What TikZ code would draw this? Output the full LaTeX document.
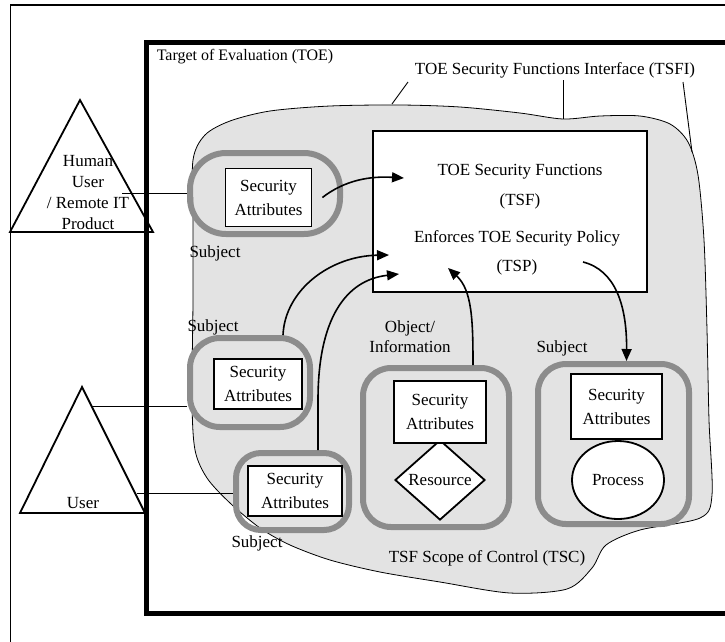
\documentclass[tikz,border=0pt]{standalone}
\usepackage{fontspec}
\setmainfont{Liberation Serif}
\usepackage{tikz}
\usetikzlibrary{arrows.meta}
\usetikzlibrary{positioning}
\usetikzlibrary{shapes.geometric}
\definecolor{tscgray}{HTML}{E3E3E3}
\definecolor{ringgray}{HTML}{8C8C8C}

\begin{document}
\begin{tikzpicture}[x=1pt,y=-1pt]
% 1 = 1px of the page
    \def\RINGLW{6pt} %gray subject rings
    \def\BOXLW{1.8pt} %black boxes
    \def\TXT{\fontsize{17pt}{24pt}\selectfont}
    \def\TXTTWO{\fontsize{17pt}{30pt}\selectfont}

    \tikzset{
      secbox/.style={draw, fill=white, line width=\BOXLW, align=center,
        inner sep=0pt, font=\TXT},
      ring/.style={draw=ringgray, line width=\RINGLW, inner sep=0pt},
      flow/.style={-{Triangle[length=12pt,width=10pt]}, line width=1.6pt},
      conn/.style={line width=0.9pt},
      lbl/.style={font=\TXT, inner sep=0pt},
    }

    \useasboundingbox (0,0) rectangle (725,641);
    \clip (0,0) rectangle (725,641);

    % OUTER FRAME
    \draw[line width=1.8pt] (740,5) -- (10,5);
    \draw[line width=0.8pt] (10,5) -- (10,660);

    % TSC REGION (BLOB)
    \draw[fill=tscgray, line width=0.8pt] plot[smooth cycle] coordinates {
        (193,160) (205,135) (230,121) (270,111) (330,106) (400,105)
        (460,107) (520,113) (563,119) (600,116) (640,116) (670,124)
        (688,142) (698,175) (704,240) (707,330) (709,420) (712,495)
        (700,518) (640,530) (606,545) (592,568) (567,589) (510,593)
        (440,582) (380,572) (330,560) (290,545) (260,528) (230,503)
        (207,478) (195,450) (192,400) (193,300) (193,220)};

    % LABELS OF THE TOE
    \node[lbl, font=\fontsize{16pt}{20pt}\selectfont] (toelbl) at (245,57)
        {Target of Evaluation (TOE)};
    \node[lbl] (tsfilbl) at (555,70) {TOE Security Functions Interface (TSFI)};
    \node[lbl] (tsclbl) at (487,558) {TSF Scope of Control (TSC)};

    % leaders of the TSFI
    \coordinate (lda) at (408,82);
    \coordinate (ldb) at (563,80);
    \coordinate (ldc) at (683,82);
    \draw[conn] (lda) -- (392,104);
    \draw[conn] (ldb) -- (563,119);
    \draw[conn] (ldc) -- (692,152);

    % TSF BOX
    \node[draw, fill=white, line width=\BOXLW, minimum width=274pt,
        minimum height=161pt] (tsf) at (510,211.5) {};
    \node[lbl, font=\TXTTWO, align=center] (tsftxt) at (520,187)
        {TOE Security Functions\\(TSF)};
    \node[lbl, font=\fontsize{17pt}{29pt}\selectfont, align=center]
        (tsptxt) at (517,252.5) {Enforces TOE Security Policy\\(TSP)};

    % FIRST SUBJECT (HUMAN USER)
    \node[ring, rounded corners=36pt, minimum width=150pt,
        minimum height=81pt] (s1ring) at (265,193.5) {};
    \node[secbox, minimum width=86pt, minimum height=58pt] (s1box)
        at (268.5,197.5) {Security\\Attributes};
    \node[lbl] (s1lbl) at (215,253) {Subject};

    % SECOND SUBJECT
    \node[ring, rounded corners=30pt, minimum width=120pt,
        minimum height=89pt] (s2ring) at (250,382.5) {};
    \node[secbox, minimum width=88pt, minimum height=50pt] (s2box)
        at (258,384) {Security\\Attributes};
    \node[lbl] (s2lbl) at (213,327) {Subject};

    % THIRD SUBJECT
    \node[ring, rounded corners=25pt, minimum width=113pt,
        minimum height=77pt] (s3ring) at (292.5,491.5) {};
    \node[secbox, minimum width=94pt, minimum height=50pt] (s3box)
        at (295,491) {Security\\Attributes};
    \node[lbl] (s3lbl) at (257,543) {Subject};

    % OBJECT
    \node[ring, rounded corners=28pt, minimum width=146pt,
        minimum height=159pt] (objring) at (436,447.5) {};
    \node[diamond, draw, fill=white, line width=\BOXLW, inner sep=0pt,
        aspect=1.125, minimum width=90pt, minimum height=80pt, font=\TXT]
        (res) at (440,480) {Resource};
    \node[secbox, minimum width=92pt, minimum height=62pt] (objbox)
        at (440,412) {Security\\Attributes};
    \node[lbl, align=center, font=\fontsize{17pt}{20pt}\selectfont]
        (objlbl) at (410,337) {Object/\\Information};

    % FOURTH SUBJECT (PROCESS)
    \node[ring, rounded corners=28pt, minimum width=151pt,
        minimum height=160pt] (s4ring) at (613.5,444) {};
    \node[secbox, minimum width=91pt, minimum height=65pt] (s4box)
        at (616.5,406.5) {Security\\Attributes};
    \node[ellipse, draw, fill=white, line width=\BOXLW, inner sep=0pt,
        minimum width=92pt, minimum height=78pt, font=\TXT]
        (proc) at (618,480) {Process};
    \node[lbl] (s4lbl) at (562,348) {Subject};

    % ARROWS INTO AND OUT OF THE TSF
    \coordinate (tip1) at (404,178);
    \coordinate (tip2) at (389,255);
    \coordinate (tip3) at (399,274);
    \coordinate (tip4) at (448,268);
    \coordinate (tspout) at (583,262);
    \draw[flow] ([xshift=10pt]s1box.east)
        .. controls (345,180) and (370,176) .. (tip1);
    \draw[flow] ([xshift=33pt]s2ring.north)
        .. controls (285,290) and (330,256) .. (tip2);
    \draw[flow] ([xshift=25.5pt]s3ring.north) -- (318,400)
        .. controls (318,320) and (345,280) .. (tip3);
    \draw[flow] ([xshift=37pt]objring.north)
        .. controls (473,320) and (472,290) .. (tip4);
    \draw[flow] (tspout)
        .. controls (615,270) and (627,305) .. ([xshift=13pt]s4ring.north);

    % HUMAN USER / REMOTE IT PRODUCT
    \draw[line width=1.8pt] (80,100) -- (10,232) -- (153,232) -- cycle;
    \node[lbl, align=center, font=\fontsize{17pt}{21pt}\selectfont]
        (humtxt) at (88,193) {Human\\User\\/ Remote IT\\Product};

    % USER
    \draw[line width=1.8pt] (82,387) -- (20,513) -- (145,513) -- cycle;
    \node[lbl] (usrtxt) at (83,503) {User};

    % lines from the users to the subjects
    \coordinate (humr) at (122,193);
    \coordinate (usr1) at (92,406);
    \coordinate (usr2) at (137,493);
    \draw[conn] (humr) -- (humr -| s1ring.west);
    \draw[conn] (usr1) -- (usr1 -| s2ring.west);
    \draw[conn] (usr2) -- (usr2 -| s3ring.west);

    % TOE FRAME
    \draw[line width=5pt] (146.5,42) rectangle (745,613);

\end{tikzpicture}
\end{document}
